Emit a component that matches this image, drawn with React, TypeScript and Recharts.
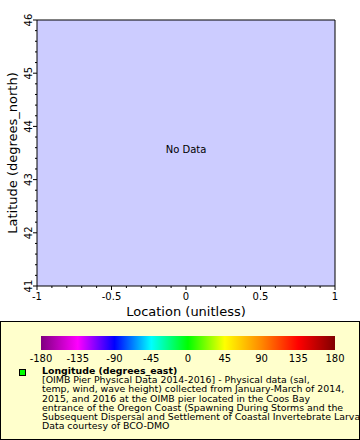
import React from "react";
import {
  ComposedChart,
  ScatterChart,
  Scatter,
  XAxis,
  YAxis,
  ReferenceArea,
  Label,
} from "recharts";

const xMajorTicks = [-1, -0.5, 0, 0.5, 1];
const xMinorTicks = [
  -1, -0.9, -0.8, -0.7, -0.6, -0.5, -0.4, -0.3, -0.2, -0.1, 0, 0.1, 0.2, 0.3,
  0.4, 0.5, 0.6, 0.7, 0.8, 0.9, 1,
];
const yMajorTicks = [41, 42, 43, 44, 45, 46];
const yMinorTicks = [
  41, 41.2, 41.4, 41.6, 41.8, 42, 42.2, 42.4, 42.6, 42.8, 43, 43.2, 43.4, 43.6,
  43.8, 44, 44.2, 44.4, 44.6, 44.8, 45, 45.2, 45.4, 45.6, 45.8, 46,
];
const points: { x: number; y: number }[] = []; // no data

const colorTicks = [-180, -135, -90, -45, 0, 45, 90, 135, 180];
const colorStops = [
  "#800080",
  "#ff00ff",
  "#0000ff",
  "#00ffff",
  "#00ff00",
  "#ffff00",
  "#ff8800",
  "#ff0000",
  "#800000",
];

const legendTitle = "Longitude (degrees_east)";
const legendLines = [
  "[OIMB Pier Physical Data 2014-2016] - Physical data (sal,",
  "temp, wind, wave height) collected from January-March of 2014,",
  "2015, and 2016 at the OIMB pier located in the Coos Bay",
  "entrance of the Oregon Coast (Spawning During Storms and the",
  "Subsequent Dispersal and Settlement of Coastal Invertebrate Larvae)",
  "Data courtesy of BCO-DMO",
];

const FONT = "'DejaVu Sans', sans-serif";

const isMajor = (v: number, majors: number[]) =>
  majors.some((m) => Math.abs(m - v) < 1e-6);

const XTick = (props: any) => {
  const { x, y, payload } = props;
  const major = isMajor(payload.value, xMajorTicks);
  return (
    <g>
      <line x1={x} x2={x} y1={y} y2={y + (major ? 4 : 2)} stroke="#000" />
      {major && (
        <text
          x={x}
          y={y + 14}
          textAnchor="middle"
          fontSize={10}
          fontFamily={FONT}
          fill="#000"
        >
          {payload.value}
        </text>
      )}
    </g>
  );
};

const YTick = (props: any) => {
  const { x, y, payload } = props;
  const major = isMajor(payload.value, yMajorTicks);
  const tx = x - 5;
  return (
    <g>
      <line x1={x} x2={x - (major ? 4 : 2)} y1={y} y2={y} stroke="#000" />
      {major && (
        <text
          x={tx}
          y={y}
          transform={`rotate(-90, ${tx}, ${y})`}
          textAnchor="middle"
          fontSize={10}
          fontFamily={FONT}
          fill="#000"
        >
          {payload.value}
        </text>
      )}
    </g>
  );
};

export default function App() {
  return (
    <div
      style={{
        position: "fixed",
        top: 0,
        left: 0,
        width: 360,
        height: 440,
        background: "#fff",
        fontFamily: FONT,
      }}
    >
      <ScatterChart
        width={360}
        height={320}
        margin={{ top: 20, right: 25, left: 0, bottom: 0 }}
      >
        <XAxis
          type="number"
          dataKey="x"
          domain={[-1, 1]}
          allowDataOverflow
          ticks={xMinorTicks}
          interval={0}
          height={34}
          tickSize={0}
          tickMargin={0}
          tickLine={false}
          axisLine={false}
          tick={<XTick />}
        >
          <Label
            value="Location (unitless)"
            position="insideBottom"
            offset={4}
            fontSize={13}
            fontFamily={FONT}
            fill="#000"
          />
        </XAxis>
        <YAxis
          type="number"
          dataKey="y"
          domain={[41, 46]}
          allowDataOverflow
          ticks={yMinorTicks}
          interval={0}
          width={37}
          tickSize={0}
          tickMargin={0}
          tickLine={false}
          axisLine={false}
          tick={<YTick />}
        >
          <Label
            value="Latitude (degrees_north)"
            angle={-90}
            position="insideLeft"
            offset={12}
            fontSize={13}
            fontFamily={FONT}
            fill="#000"
            style={{ textAnchor: "middle" }}
          />
        </YAxis>
        <ReferenceArea
          x1={-1}
          x2={1}
          y1={41}
          y2={46}
          fill="#ccccff"
          fillOpacity={1}
          stroke="#000"
          strokeWidth={1}
          ifOverflow="visible"
        >
          <Label
            value="No Data"
            position="center"
            dy={-4}
            fontSize={10}
            fontFamily={FONT}
            fill="#000"
          />
        </ReferenceArea>
        <Scatter data={points} fill="#00ff00" isAnimationActive={false} />
      </ScatterChart>

      <div
        style={{
          position: "absolute",
          left: 0,
          top: 321,
          width: 358,
          height: 117,
          background: "#ffffcc",
          border: "1px solid #000",
          overflow: "hidden",
        }}
      >
        <div style={{ position: "absolute", left: -1, top: 0 }}>
          <ComposedChart
            width={360}
            height={45}
            data={[{ v: 0 }]}
            margin={{ top: 14, right: 25, left: 41, bottom: 0 }}
          >
            <defs>
              <linearGradient id="cbar" x1="0" y1="0" x2="1" y2="0">
                {colorStops.map((c, i) => (
                  <stop
                    key={i}
                    offset={`${(i / (colorStops.length - 1)) * 100}%`}
                    stopColor={c}
                  />
                ))}
              </linearGradient>
            </defs>
            <XAxis
              type="number"
              dataKey="v"
              domain={[-180, 180]}
              allowDataOverflow
              ticks={colorTicks}
              interval={0}
              height={17}
              tickSize={0}
              tickMargin={5}
              axisLine={false}
              tickLine={false}
              tick={{ fontSize: 10, fontFamily: FONT, fill: "#000" }}
            />
            <YAxis type="number" domain={[0, 1]} allowDataOverflow hide />
            <ReferenceArea
              x1={-180}
              x2={180}
              y1={0}
              y2={1}
              fill="url(#cbar)"
              fillOpacity={1}
              ifOverflow="visible"
            />
          </ComposedChart>
        </div>
        <div
          style={{
            position: "absolute",
            left: 18,
            top: 47,
            width: 5,
            height: 5,
            background: "#00ff00",
            border: "1px solid #000",
          }}
        />
        <div
          style={{
            position: "absolute",
            left: 41,
            top: 44,
            fontSize: 9.4,
            lineHeight: "9.2px",
            whiteSpace: "nowrap",
            color: "#000",
          }}
        >
          <div style={{ fontWeight: "bold" }}>{legendTitle}</div>
          {legendLines.map((l, i) => (
            <div key={i}>{l}</div>
          ))}
        </div>
      </div>
    </div>
  );
}
